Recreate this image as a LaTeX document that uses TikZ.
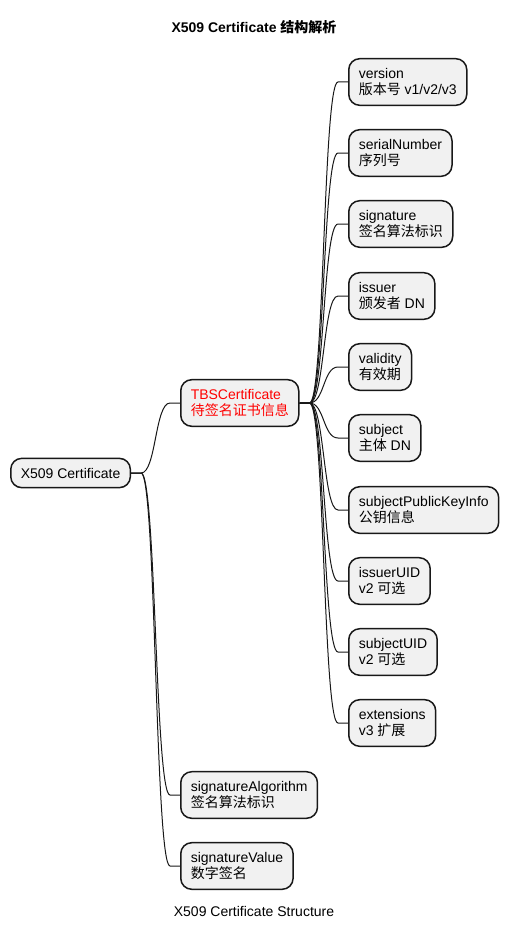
\documentclass[tikz,border=0pt]{standalone}
\usepackage{fontspec}
\setmainfont{Liberation Sans}
\newfontfamily\cjkfont{Noto Sans CJK SC}
\newcommand{\zh}[1]{{\cjkfont #1}}
\definecolor{boxfill}{HTML}{F1F1F1}
\definecolor{boxline}{HTML}{181818}

\tikzset{
  mmbox/.style={draw=boxline, fill=boxfill, line width=1.5pt, rounded corners=11pt,
    anchor=west, align=left, inner xsep=10pt, inner ysep=9.5pt,
    font=\fontsize{14}{16.3}\selectfont},
  link/.style={draw=boxline, line width=1pt}
}

\begin{document}
\begin{tikzpicture}[x=1pt,y=-1pt]
\useasboundingbox (0,0) rectangle (509,931);
\node[font=\fontsize{14}{16}\selectfont\bfseries] (title) at (254,27) {X509 Certificate \zh{结构解析}};
\node[font=\fontsize{14}{16}\selectfont] (caption) at (254,911) {X509 Certificate Structure};

\node[mmbox] (root) at (10,473) {X509 Certificate};

\node[mmbox, text=red] (tbs) at (180,403) {TBSCertificate\\\zh{待签名证书信息}};
\node[mmbox] (sigalg) at (180,795) {signatureAlgorithm\\\zh{签名算法标识}};
\node[mmbox] (sigval) at (180,866) {signatureValue\\\zh{数字签名}};

\node[mmbox] (version) at (348,82) {version\\\zh{版本号} v1/v2/v3};
\node[mmbox] (serial) at (348,153) {serialNumber\\\zh{序列号}};
\node[mmbox] (signature) at (348,224) {signature\\\zh{签名算法标识}};
\node[mmbox] (issuer) at (348,296) {issuer\\\zh{颁发者} DN};
\node[mmbox] (validity) at (348,367) {validity\\\zh{有效期}};
\node[mmbox] (subject) at (348,438) {subject\\\zh{主体} DN};
\node[mmbox] (spki) at (348,510) {subjectPublicKeyInfo\\\zh{公钥信息}};
\node[mmbox] (issueruid) at (348,581) {issuerUID\\v2 \zh{可选}};
\node[mmbox] (subjectuid) at (348,652) {subjectUID\\v2 \zh{可选}};
\node[mmbox] (ext) at (348,723) {extensions\\v3 \zh{扩展}};

% root branches
\foreach \c in {tbs,sigalg,sigval}
  \draw[link] (root.east) -- ++(10,0) .. controls +(15,0) and +(-15,0) .. ([xshift=-10pt]\c.west) -- (\c.west);
% TBSCertificate fields
\foreach \c in {version,serial,signature,issuer,validity,subject,spki,issueruid,subjectuid,ext}
  \draw[link] (tbs.east) -- ++(10,0) .. controls +(15,0) and +(-15,0) .. ([xshift=-10pt]\c.west) -- (\c.west);
\end{tikzpicture}
\end{document}
